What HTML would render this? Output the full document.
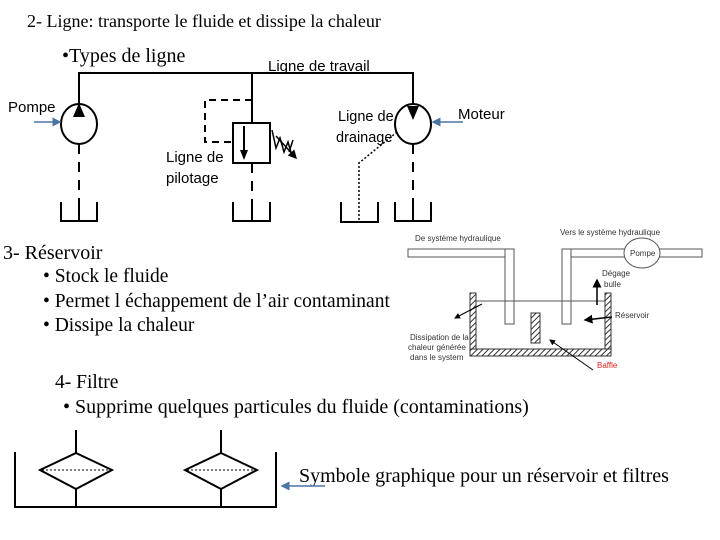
<!DOCTYPE html>
<html><head><meta charset="utf-8"><style>
body{margin:0;background:#fff;}
svg{display:block}
.t{font-family:"Liberation Serif",serif;fill:#000}
.s{font-family:"Liberation Sans",sans-serif;fill:#000}
.r{font-family:"Liberation Sans",sans-serif;fill:#333;font-size:8px}
</style></head><body>
<svg width="720" height="540" viewBox="0 0 720 540" xmlns="http://www.w3.org/2000/svg">
<defs><marker id="ba" markerWidth="6" markerHeight="6" refX="5" refY="3" orient="auto"><path d="M0,0 L6,3 L0,6z" fill="#4a74a4"/></marker>
<marker id="ka" markerWidth="6" markerHeight="6" refX="5" refY="3" orient="auto"><path d="M0,0 L6,3 L0,6z" fill="#000"/></marker>
<pattern id="h" width="4" height="4" patternUnits="userSpaceOnUse" patternTransform="rotate(45)"><rect width="4" height="4" fill="#fff"/><line x1="0" y1="0" x2="0" y2="4" stroke="#333" stroke-width="2"/></pattern></defs>
<text class="t" x="27" y="27" font-size="18">2- Ligne: transporte le fluide et dissipe la chaleur</text>
<text class="t" x="62" y="62" font-size="20">•Types de ligne</text>
<text class="s" x="268" y="71" font-size="15">Ligne de travail</text>
<text class="s" x="8" y="112" font-size="15">Pompe</text>
<text class="s" x="166" y="162" font-size="15">Ligne de</text>
<text class="s" x="166" y="183" font-size="15">pilotage</text>
<text class="s" x="338" y="121" font-size="14.5">Ligne de</text>
<text class="s" x="336" y="142" font-size="14.5">drainage</text>
<text class="s" x="458" y="119" font-size="15">Moteur</text>
<g stroke="#000" stroke-width="2" fill="none">
<path d="M79,104 V73 H413 V104"/>
<ellipse cx="79" cy="124" rx="18" ry="20" fill="#fff"/>
<ellipse cx="413" cy="124" rx="18" ry="20" fill="#fff"/>
<path d="M252,73 V123"/>
<rect x="233" y="123" width="37" height="40" fill="#fff"/>
<path d="M244,126 V158"/>
<path d="M252,100 H205 V142 H233" stroke-dasharray="7,5"/>
<path d="M79,144 V205 M252,163 V205 M413,144 V205" stroke-dasharray="10,8"/>
<path d="M61,202 V221 H97 V202 M79,205 V221"/>
<path d="M233,202 V221 H270 V202 M252,205 V221"/>
<path d="M341,202 V222 H378 V202"/>
<path d="M395,202 V221 H431 V202 M413,205 V221"/>
<path d="M272,130 L276,148 L280,138 L284,152 L288,142 L292,156" stroke-width="1.5"/>
<path d="M276,136 L296,158" stroke-width="1.5" marker-end="url(#ka)"/>
<path d="M293,140 L289,152" stroke-width="1.5"/>
<path d="M397,132 L359,163 V222" stroke-width="1.5" stroke-dasharray="2,2"/>
</g>
<path d="M73,117 L85,117 L79,103z" fill="#000"/>
<path d="M407,106 L419,106 L413,120z" fill="#000"/>
<path d="M240,150 L248,150 L244,160z" fill="#000"/>
<line x1="34" y1="122" x2="60" y2="122" stroke="#4a74a4" stroke-width="1.5" marker-end="url(#ba)"/>
<line x1="463" y1="122" x2="433" y2="122" stroke="#4a74a4" stroke-width="1.5" marker-end="url(#ba)"/>

<text class="t" x="3" y="259" font-size="20">3- Réservoir</text>
<text class="t" x="43" y="282" font-size="19.5">• Stock le fluide</text>
<text class="t" x="43" y="307" font-size="19.5">• Permet l échappement de l’air contaminant</text>
<text class="t" x="43" y="331" font-size="19.5">• Dissipe la chaleur</text>

<g>
<text class="r" x="415" y="241">De système hydraulique</text>
<text class="r" x="560" y="235">Vers le système hydraulique</text>
<rect x="408" y="249" width="106" height="8" fill="#fff" stroke="#555"/>
<rect x="505" y="249" width="9" height="75" fill="#fff" stroke="#555"/>
<rect x="562" y="249" width="140" height="8" fill="#fff" stroke="#555"/>
<rect x="562" y="249" width="9" height="75" fill="#fff" stroke="#555"/>
<ellipse cx="642" cy="253" rx="18" ry="15" fill="#fff" stroke="#555"/>
<text class="r" x="630" y="256">Pompe</text>
<text class="r" x="602" y="276">Dégage</text>
<text class="r" x="604" y="287">bulle</text>
<text class="r" x="615" y="318">Réservoir</text>
<rect x="470" y="293" width="6" height="62" fill="url(#h)" stroke="#333"/>
<rect x="605" y="293" width="6" height="62" fill="url(#h)" stroke="#333"/>
<rect x="470" y="349" width="141" height="7" fill="url(#h)" stroke="#333"/>
<rect x="531" y="313" width="9" height="30" fill="url(#h)" stroke="#333"/>
<line x1="476" y1="301" x2="605" y2="301" stroke="#555"/>
<line x1="597" y1="305" x2="597" y2="280" stroke="#000" stroke-width="1.5" marker-end="url(#ka)"/>
<line x1="612" y1="317" x2="585" y2="320" stroke="#000" stroke-width="1.5" marker-end="url(#ka)"/>
<line x1="482" y1="304" x2="455" y2="318" stroke="#000" stroke-width="1" marker-end="url(#ka)"/>
<line x1="593" y1="370" x2="550" y2="340" stroke="#000" stroke-width="1" marker-end="url(#ka)"/>
<text class="r" x="410" y="340">Dissipation de la</text>
<text class="r" x="408" y="350">chaleur générée</text>
<text class="r" x="410" y="360">dans le system</text>
<text class="r" x="597" y="368" style="fill:#d22">Baffle</text>
</g>

<text class="t" x="55" y="388" font-size="19.5">4- Filtre</text>
<text class="t" x="63" y="413" font-size="20">• Supprime quelques particules du fluide (contaminations)</text>
<g stroke="#000" stroke-width="2" fill="none">
<path d="M15,452 V507 H276 V452"/>
<path d="M76,430 V453 M76,489 V507 M221,430 V453 M221,489 V507"/>
<path d="M76,453 L112,470 L76,489 L40,470z"/>
<path d="M221,453 L257,470 L221,489 L185,470z"/>
<path d="M42,470 H110 M187,470 H255" stroke-width="1" stroke-dasharray="2,2"/>
</g>
<text class="t" x="299" y="482" font-size="20">Symbole graphique pour un réservoir et filtres</text>
<line x1="325" y1="486" x2="282" y2="486" stroke="#4a74a4" stroke-width="1.5" marker-end="url(#ba)"/>
</svg>
</body></html>
